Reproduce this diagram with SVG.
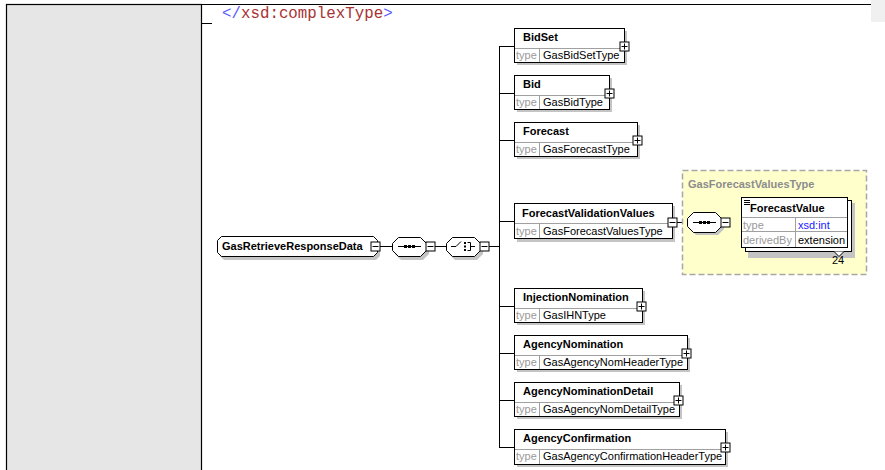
<svg xmlns="http://www.w3.org/2000/svg" width="885" height="470" viewBox="0 0 885 470">
<style>
.name{font-family:"Liberation Sans",Arial,sans-serif;font-size:11px;font-weight:bold;fill:#000}
.lbl{font-family:"Liberation Sans",Arial,sans-serif;font-size:11px;fill:#999}
.val{font-family:"Liberation Sans",Arial,sans-serif;font-size:11px;fill:#000}
.box{fill:#fff;stroke:#000;stroke-width:1}
.shd{fill:#c4c4c4}
.grid{stroke:#a0a0a0;stroke-width:1;fill:none}
.ln{stroke:#000;stroke-width:1;fill:none}
.pm{fill:#fff;stroke:#000;stroke-width:1}
</style>
<defs>
<g id="plus"><rect class="pm" x="-4.5" y="-4.5" width="9" height="9"/><path class="ln" d="M-3 0H3M0 -3V3"/></g>
<g id="minus"><rect class="pm" x="-4.5" y="-4.5" width="9" height="9"/><path class="ln" d="M-3 0H3"/></g>
</defs>
<rect x="0" y="0" width="885" height="470" fill="#fff"/>
<rect x="6.5" y="4.5" width="195" height="470" fill="#e6e6e6" stroke="#000" stroke-width="1.2"/>
<path d="M6 4.5H871" stroke="#000" stroke-width="1.2"/>
<rect x="871" y="0" width="14" height="22" fill="#f0f0f0"/>
<path d="M201 23.5H212" stroke="#000" stroke-width="1"/>
<text x="222" y="18" font-family="'Liberation Mono','Courier New',monospace" font-size="15.8px"><tspan fill="#5a5aff">&lt;/</tspan><tspan fill="#a83232">xsd:complexType</tspan><tspan fill="#5a5aff">&gt;</tspan></text>

<g id="connectors">
<path class="ln" d="M380 246.5H392M435 246.5H446M489 246.5H499M499.5 46V447"/>
<path class="ln" d="M499 46.5H514M499 93.5H514M499 140.5H514M499 221.5H514M499 306.5H514M499 353.5H514M499 400.5H514M499 447.5H514"/>
<path class="ln" d="M677 222.5H687M729 222.5H742"/>
</g>

<g id="GasRetrieveResponseData">
<path class="shd" d="M224 239H376L380 243V256L376 260H224L220 256V243Z"/>
<path class="box" d="M221.5 236.5H373.5L377.5 240.5V252.5L373.5 256.5H221.5L217.5 252.5V240.5Z"/>
<text class="name" x="222" y="250">GasRetrieveResponseData</text>
<use href="#minus" x="375.5" y="246.5"/>
</g>

<g id="sequence1">
<path class="shd" d="M401 240H423L429 246V254L423 260H401L395 254V246Z"/>
<path class="box" d="M398.5 237.5H420.5L426.5 243.5V250.5L420.5 256.5H398.5L392.5 250.5V243.5Z"/>
<path class="ln" d="M398 246.5H421"/>
<rect x="404" y="245" width="3" height="3" fill="#000"/><rect x="408" y="245" width="3" height="3" fill="#000"/><rect x="412" y="245" width="3" height="3" fill="#000"/>
<use href="#minus" x="430.5" y="246.5"/>
</g>

<g id="choice1">
<path class="shd" d="M455 240H477L483 246V254L477 260H455L449 254V246Z"/>
<path class="box" d="M452.5 237.5H474.5L480.5 243.5V250.5L474.5 256.5H452.5L446.5 250.5V243.5Z"/>
<path class="ln" d="M451 246.5H456L461 241.5M467.5 242.5H470.5V250.5H467.5M470.5 246.5H475"/>
<rect x="464" y="242" width="2" height="2" fill="#000"/><rect x="464" y="245.5" width="2" height="2" fill="#000"/><rect x="464" y="249" width="2" height="2" fill="#000"/>
<use href="#minus" x="484.5" y="246.5"/>
</g>

<g id="BidSet">
<rect class="shd" x="517" y="31" width="110" height="34"/>
<rect class="box" x="514.5" y="28.5" width="110" height="34"/>
<path class="grid" d="M515 48.5H624M539.5 49V62"/>
<text class="name" x="523" y="41">BidSet</text>
<text class="lbl" x="516" y="59">type</text>
<text class="val" x="543" y="59">GasBidSetType</text>
<use href="#plus" x="624.5" y="46.5"/>
</g>

<g id="Bid">
<rect class="shd" x="517" y="78" width="95" height="34"/>
<rect class="box" x="514.5" y="75.5" width="95" height="34"/>
<path class="grid" d="M515 95.5H609M539.5 96V109"/>
<text class="name" x="523" y="88">Bid</text>
<text class="lbl" x="516" y="106">type</text>
<text class="val" x="543" y="106">GasBidType</text>
<use href="#plus" x="609.5" y="93.5"/>
</g>

<g id="Forecast">
<rect class="shd" x="517" y="125" width="123" height="34"/>
<rect class="box" x="514.5" y="122.5" width="123" height="34"/>
<path class="grid" d="M515 142.5H637M539.5 143V156"/>
<text class="name" x="523" y="135">Forecast</text>
<text class="lbl" x="516" y="153">type</text>
<text class="val" x="543" y="153">GasForecastType</text>
<use href="#plus" x="637.5" y="140.5"/>
</g>

<g id="GasForecastValuesType">
<rect x="682.5" y="170.5" width="184" height="104" fill="#ffffcc" stroke="#a8a8a8" stroke-width="1.5" stroke-dasharray="6,3"/>
<text x="688" y="188" font-family="'Liberation Sans',Arial,sans-serif" font-size="11px" font-weight="bold" fill="#8c8c8c">GasForecastValuesType</text>
</g>

<g id="ForecastValidationValues">
<rect class="shd" x="517" y="206" width="158" height="36"/>
<rect class="box" x="514.5" y="203.5" width="158" height="35"/>
<path class="grid" d="M515 223.5H672M539.5 224V238"/>
<text class="name" x="522" y="217">ForecastValidationValues</text>
<text class="lbl" x="516" y="235">type</text>
<text class="val" x="543" y="235">GasForecastValuesType</text>
<use href="#minus" x="672.5" y="222.5"/>
</g>

<g id="sequence2">
<path class="shd" d="M696 215H718L724 221V229L718 235H696L690 229V221Z"/>
<path class="box" d="M693.5 212.5H715.5L721.5 218.5V226.5L715.5 232.5H693.5L687.5 226.5V218.5Z"/>
<path class="ln" d="M693 222.5H716"/>
<rect x="699" y="221" width="3" height="3" fill="#000"/><rect x="703" y="221" width="3" height="3" fill="#000"/><rect x="707" y="221" width="3" height="3" fill="#000"/>
<use href="#minus" x="725.5" y="222.5"/>
</g>

<g id="ForecastValue">
<rect class="shd" x="748" y="203" width="107" height="55"/>
<rect class="box" x="745.5" y="200.5" width="106" height="51"/>
<path d="M834 251.5L839 256.5L844 251.5" fill="#fff" stroke="#000" stroke-width="1"/>
<rect class="box" x="741.5" y="197.5" width="106" height="50"/>
<path class="grid" d="M742 217.5H847M742 231.5H847M795.5 218V247"/>
<path class="ln" d="M744 200.5H750M744 202.5H750M744 204.5H750"/>
<text class="name" x="750" y="212">ForecastValue</text>
<text class="lbl" x="743" y="229">type</text>
<text x="798" y="229" font-family="'Liberation Sans',Arial,sans-serif" font-size="11px" fill="#2020ff">xsd:int</text>
<text class="lbl" x="743" y="244">derivedBy</text>
<text class="val" x="798" y="244">extension</text>
<text class="val" x="832" y="264">24</text>
</g>

<g id="InjectionNomination">
<rect class="shd" x="517" y="291" width="128" height="34"/>
<rect class="box" x="514.5" y="288.5" width="128" height="34"/>
<path class="grid" d="M515 308.5H642M539.5 309V322"/>
<text class="name" x="523" y="301">InjectionNomination</text>
<text class="lbl" x="516" y="319">type</text>
<text class="val" x="543" y="319">GasIHNType</text>
<use href="#plus" x="641.5" y="306.5"/>
</g>

<g id="AgencyNomination">
<rect class="shd" x="517" y="338" width="173" height="34"/>
<rect class="box" x="514.5" y="335.5" width="173" height="34"/>
<path class="grid" d="M515 355.5H687M539.5 356V369"/>
<text class="name" x="523" y="348">AgencyNomination</text>
<text class="lbl" x="516" y="366">type</text>
<text class="val" x="543" y="366">GasAgencyNomHeaderType</text>
<use href="#plus" x="686.5" y="353.5"/>
</g>

<g id="AgencyNominationDetail">
<rect class="shd" x="517" y="385" width="165" height="34"/>
<rect class="box" x="514.5" y="382.5" width="165" height="34"/>
<path class="grid" d="M515 402.5H679M539.5 403V416"/>
<text class="name" x="523" y="395">AgencyNominationDetail</text>
<text class="lbl" x="516" y="413">type</text>
<text class="val" x="543" y="413">GasAgencyNomDetailType</text>
<use href="#plus" x="678.5" y="400.5"/>
</g>

<g id="AgencyConfirmation">
<rect class="shd" x="517" y="432" width="211" height="35"/>
<rect class="box" x="514.5" y="429.5" width="211" height="35"/>
<path class="grid" d="M515 449.5H725M539.5 450V464"/>
<text class="name" x="523" y="442">AgencyConfirmation</text>
<text class="lbl" x="516" y="460">type</text>
<text class="val" x="543" y="460">GasAgencyConfirmationHeaderType</text>
<use href="#plus" x="725.5" y="447.5"/>
</g>
</svg>
